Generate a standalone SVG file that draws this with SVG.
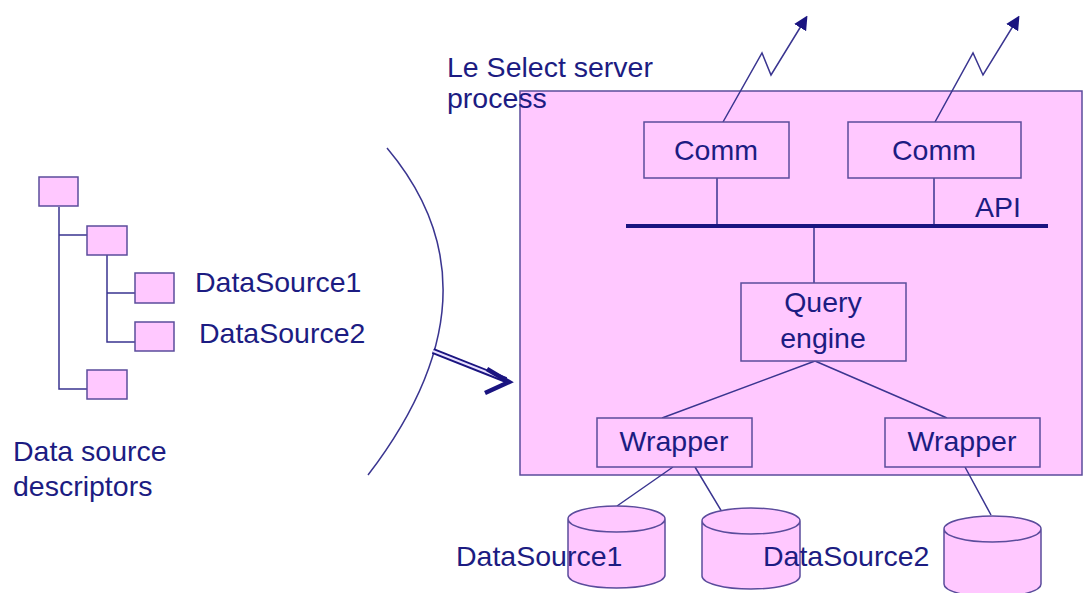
<svg xmlns="http://www.w3.org/2000/svg" width="1085" height="593" viewBox="0 0 1085 593">
  <style>
    .box { fill: #ffc8ff; stroke: #5b4c9c; stroke-width: 1.5; }
    .ln { fill: none; stroke: #3a3590; stroke-width: 1.5; }
    .txt { font-family: "Liberation Sans", Arial, sans-serif; font-size: 28.5px; fill: #1c1c82; }
    .mid { text-anchor: middle; }
  </style>
  <defs>
    <marker id="tri" viewBox="0 0 10 10" refX="8" refY="5" markerWidth="14" markerHeight="14" orient="auto" markerUnits="userSpaceOnUse">
      <path d="M0,0 L10,5 L0,10 z" fill="#1a1480"/>
    </marker>
  </defs>
  <rect width="1085" height="593" fill="#ffffff"/>

  <!-- descriptor tree -->
  <g id="descriptor-tree">
    <path class="ln" d="M59,207 V389 H87 M59,235 H87 M107,255 V342 H135 M107,293 H135"/>
    <rect class="box" x="39" y="177" width="39" height="29"/>
    <rect class="box" x="87" y="226" width="40" height="29"/>
    <rect class="box" x="135" y="273" width="39" height="30"/>
    <rect class="box" x="135" y="322" width="39" height="29"/>
    <rect class="box" x="87" y="370" width="40" height="29"/>
    <text class="txt" x="195" y="292">DataSource1</text>
    <text class="txt" x="199" y="343">DataSource2</text>
  </g>
  <g id="descriptors-label">
    <text class="txt" x="13" y="461">Data source</text>
    <text class="txt" x="13" y="496">descriptors</text>
  </g>

  <!-- boundary arc -->
  <g id="boundary">
    <path class="ln" d="M387,148 Q508,292 368,475"/>
  </g>

  <!-- server process -->
  <g id="server">
    <rect class="box" x="520" y="91" width="562" height="384"/>
  </g>
  <g id="server-label">
    <text class="txt" x="447" y="77">Le Select server</text>
    <text class="txt" x="447" y="108">process</text>
  </g>

  <g id="connectors">
    <!-- zigzag network links -->
    <polyline class="ln" points="723,122 762,53 771,75 806,18" marker-end="url(#tri)"/>
    <polyline class="ln" points="935,122 973,53 983,75 1018,18" marker-end="url(#tri)"/>
    <!-- comm to API bus -->
    <path class="ln" d="M717,178 V226 M934,178 V226 M814,226 V283"/>
    <!-- query engine to wrappers -->
    <path class="ln" d="M815,361 L662,418 M815,361 L947,418"/>
    <!-- wrappers to data sources -->
    <path class="ln" d="M673,467 L617,506 M695,467 L722,512 M965,467 L991,515"/>
    <!-- import arrow (double line) -->
    <path d="M433,351 L506,380" stroke="#1a1480" stroke-width="6" fill="none"/>
    <path d="M433,351 L504,379" stroke="#e8e0ff" stroke-width="2" fill="none"/>
    <path d="M487,369 L509,382 L485,393" stroke="#1a1480" stroke-width="4.5" fill="none" stroke-linejoin="miter"/>
  </g>

  <g id="api-bus">
    <line x1="626" y1="226" x2="1048" y2="226" stroke="#1a1480" stroke-width="4"/>
    <text class="txt" x="975" y="217">API</text>
  </g>

  <g id="comm-1">
    <rect class="box" x="644" y="122" width="145" height="56"/>
    <text class="txt mid" x="716" y="160">Comm</text>
  </g>
  <g id="comm-2">
    <rect class="box" x="848" y="122" width="173" height="56"/>
    <text class="txt mid" x="934" y="160">Comm</text>
  </g>
  <g id="query-engine">
    <rect class="box" x="741" y="283" width="165" height="78"/>
    <text class="txt mid" x="823" y="312">Query</text>
    <text class="txt mid" x="823" y="348">engine</text>
  </g>
  <g id="wrapper-1">
    <rect class="box" x="597" y="418" width="155" height="49"/>
    <text class="txt mid" x="674" y="451">Wrapper</text>
  </g>
  <g id="wrapper-2">
    <rect class="box" x="885" y="418" width="155" height="49"/>
    <text class="txt mid" x="962" y="451">Wrapper</text>
  </g>

  <!-- databases -->
  <g id="db-1">
    <path class="box" d="M568,519 V575 A48.5,13 0 0 0 665,575 V519 A48.5,13 0 0 0 568,519 A48.5,13 0 0 0 665,519"/>
  </g>
  <g id="db-2">
    <path class="box" d="M702,521 V576 A49,13 0 0 0 800,576 V521 A49,13 0 0 0 702,521 A49,13 0 0 0 800,521"/>
  </g>
  <g id="db-3">
    <path class="box" d="M944,529 V584 A48.5,13 0 0 0 1041,584 V529 A48.5,13 0 0 0 944,529 A48.5,13 0 0 0 1041,529"/>
  </g>
  <g id="db-labels">
    <text class="txt" x="456" y="566">DataSource1</text>
    <text class="txt" x="763" y="566">DataSource2</text>
  </g>
</svg>
